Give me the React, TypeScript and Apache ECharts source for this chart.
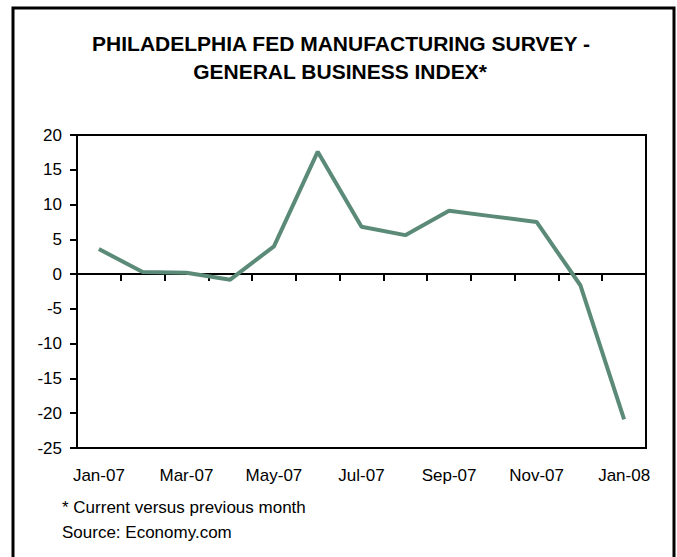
import React, { useEffect, useRef } from "react";
import * as echarts from "echarts";

const categories = [
  "Jan-07", "Feb-07", "Mar-07", "Apr-07", "May-07", "Jun-07", "Jul-07",
  "Aug-07", "Sep-07", "Oct-07", "Nov-07", "Dec-07", "Jan-08",
];
const indexValues = [3.6, 0.3, 0.2, -0.8, 4.0, 17.6, 6.8, 5.6, 9.1, 8.3, 7.5, -1.6, -20.9];
const titleLines = ["PHILADELPHIA FED MANUFACTURING SURVEY -", "GENERAL BUSINESS INDEX*"];
const footnotes = ["* Current versus previous month", "Source: Economy.com"];

const FONT = "'Liberation Sans', Arial, Helvetica, sans-serif";

export default function App() {
  const ref = useRef<HTMLDivElement>(null);
  useEffect(() => {
    document.body.style.margin = "0";
    const chart = echarts.init(ref.current!, null, { renderer: "svg" });
    chart.setOption({
      animation: false,
      backgroundColor: "#fff",
      textStyle: { fontFamily: FONT },
      grid: {
        left: 77,
        top: 135,
        right: 31,
        bottom: 109,
        containLabel: false,
        show: true,
        borderColor: "#000",
        borderWidth: 2,
        backgroundColor: "transparent",
      },
      xAxis: [
        {
          type: "category",
          data: categories,
          boundaryGap: true,
          axisLine: { show: true, onZero: true, lineStyle: { color: "#000", width: 2 } },
          axisTick: { show: true, interval: 0, length: 7, lineStyle: { color: "#000", width: 2 } },
          axisLabel: { show: false },
          splitLine: { show: false },
        },
        {
          type: "category",
          data: categories,
          position: "bottom",
          boundaryGap: true,
          axisLine: { show: false, onZero: false },
          axisTick: { show: false },
          axisLabel: {
            show: true,
            interval: 1,
            margin: 19,
            color: "#000",
            fontSize: 17,
            fontFamily: FONT,
          },
          splitLine: { show: false },
        },
      ],
      yAxis: {
        type: "value",
        min: -25,
        max: 20,
        interval: 5,
        axisLine: { show: true, lineStyle: { color: "#000", width: 2 } },
        axisTick: { show: true, length: 7, lineStyle: { color: "#000", width: 2 } },
        axisLabel: { color: "#000", fontSize: 17, margin: 15, fontFamily: FONT },
        splitLine: { show: false },
      },
      series: [
        {
          type: "line",
          data: indexValues,
          xAxisIndex: 0,
          showSymbol: false,
          symbol: "none",
          lineStyle: { color: "#5B8B78", width: 4 },
          z: 3,
        },
      ],
      graphic: [
        {
          type: "rect",
          shape: { x: 13, y: 8, width: 661, height: 600 },
          style: { fill: "none", stroke: "#000", lineWidth: 3 },
          silent: true,
        },
        {
          type: "text",
          x: 341,
          y: 43,
          style: {
            text: titleLines[0],
            font: `bold 21px ${FONT}`,
            fill: "#000",
            textAlign: "center",
            textVerticalAlign: "middle",
          },
        },
        {
          type: "text",
          x: 340,
          y: 71,
          style: {
            text: titleLines[1],
            font: `bold 21px ${FONT}`,
            fill: "#000",
            textAlign: "center",
            textVerticalAlign: "middle",
          },
        },
        {
          type: "text",
          x: 62,
          y: 507,
          style: {
            text: footnotes[0],
            font: `17px ${FONT}`,
            fill: "#000",
            textAlign: "left",
            textVerticalAlign: "middle",
          },
        },
        {
          type: "text",
          x: 62,
          y: 532,
          style: {
            text: footnotes[1],
            font: `17px ${FONT}`,
            fill: "#000",
            textAlign: "left",
            textVerticalAlign: "middle",
          },
        },
      ],
    });
    return () => chart.dispose();
  }, []);
  return (
    <div
      ref={ref}
      style={{ position: "absolute", left: 0, top: 0, width: 677, height: 557 }}
    />
  );
}
